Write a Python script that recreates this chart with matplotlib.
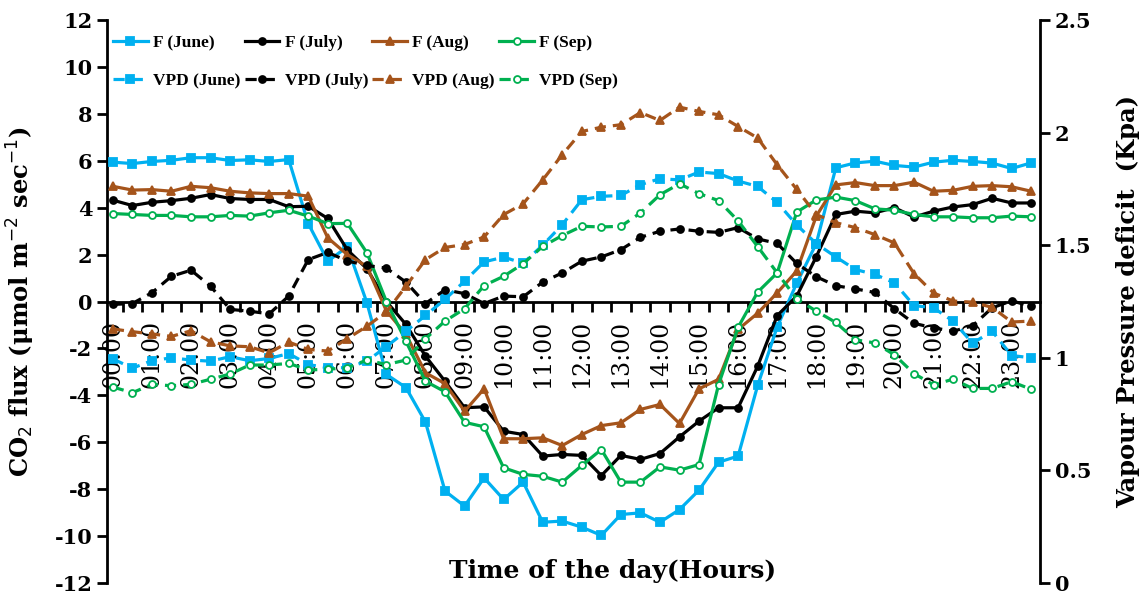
import numpy as np
import matplotlib
matplotlib.use("Agg")
import matplotlib.pyplot as plt

plt.rcParams['font.family'] = ['DejaVu Serif']
plt.rcParams['axes.unicode_minus'] = False

# half-hourly points, 00:00 .. 23:30
hours = [f"{h:02d}:00" for h in range(24)]

f_june = [5.94, 5.88, 5.97, 6.02, 6.13, 6.13, 6.01, 6.04, 5.97, 6.05,
          3.32, 1.72, 2.33, -0.05, -3.11, -3.67, -5.14, -8.08, -8.72, -7.52,
          -8.44, -7.70, -9.41, -9.36, -9.62, -9.97, -9.08, -9.01, -9.41, -8.87,
          -8.04, -6.85, -6.59, -3.58, -1.08, 0.78, 2.47, 5.70, 5.91, 5.98,
          5.80, 5.73, 5.94, 6.02, 5.97, 5.90, 5.67, 5.91]
f_july = [4.32, 4.09, 4.23, 4.30, 4.40, 4.56, 4.39, 4.35, 4.35, 4.04,
          4.06, 3.54, 2.20, 1.40, 0.00, -0.98, -2.33, -3.40, -4.53, -4.49,
          -5.53, -5.67, -6.59, -6.52, -6.56, -7.42, -6.56, -6.73, -6.48, -5.77,
          -5.10, -4.53, -4.53, -2.76, -0.60, 0.23, 1.91, 3.71, 3.85, 3.78,
          4.00, 3.60, 3.85, 4.03, 4.13, 4.40, 4.20, 4.20]
f_aug = [4.91, 4.75, 4.77, 4.70, 4.91, 4.85, 4.70, 4.63, 4.60, 4.60,
         4.49, 2.71, 2.00, 1.50, -0.40, -1.40, -3.04, -3.50, -4.68, -3.72,
         -5.85, -5.85, -5.81, -6.14, -5.67, -5.29, -5.17, -4.60, -4.39, -5.20,
         -3.72, -3.32, -1.19, -0.50, 0.37, 1.30, 3.64, 4.97, 5.07, 4.94,
         4.94, 5.09, 4.70, 4.74, 4.91, 4.94, 4.89, 4.70]
f_sep = [3.75, 3.71, 3.67, 3.67, 3.61, 3.61, 3.67, 3.64, 3.78, 3.89,
         3.64, 3.32, 3.33, 2.08, 0.00, -1.70, -3.40, -3.85, -5.15, -5.34,
         -7.09, -7.37, -7.45, -7.70, -6.99, -6.31, -7.70, -7.70, -7.05, -7.19,
         -6.95, -3.54, -1.10, 0.40, 1.22, 3.81, 4.33, 4.45, 4.30, 3.95,
         3.89, 3.71, 3.61, 3.61, 3.57, 3.57, 3.64, 3.61]

vpd_june = [0.995, 0.954, 0.987, 1.0, 0.99, 0.985, 1.005, 0.987, 0.997, 1.019,
            0.97, 0.956, 0.956, 0.985, 1.05, 1.118, 1.188, 1.26, 1.34, 1.426,
            1.447, 1.42, 1.5, 1.591, 1.702, 1.717, 1.721, 1.769, 1.795, 1.79,
            1.825, 1.818, 1.785, 1.761, 1.69, 1.59, 1.507, 1.448, 1.392, 1.37,
            1.333, 1.232, 1.222, 1.163, 1.065, 1.118, 1.01, 1.0]
vpd_july = [1.237, 1.241, 1.289, 1.362, 1.389, 1.318, 1.215, 1.207, 1.195, 1.274,
            1.436, 1.468, 1.43, 1.41, 1.398, 1.336, 1.241, 1.302, 1.285, 1.241,
            1.274, 1.271, 1.336, 1.377, 1.429, 1.448, 1.48, 1.535, 1.562, 1.572,
            1.562, 1.557, 1.578, 1.528, 1.508, 1.419, 1.36, 1.32, 1.306, 1.29,
            1.218, 1.153, 1.133, 1.118, 1.142, 1.222, 1.253, 1.229]
vpd_aug = [1.128, 1.116, 1.106, 1.095, 1.12, 1.071, 1.053, 1.049, 1.022, 1.07,
           1.037, 1.03, 1.085, 1.14, 1.204, 1.318, 1.436, 1.49, 1.503, 1.537,
           1.636, 1.684, 1.79, 1.902, 2.005, 2.024, 2.035, 2.089, 2.054, 2.113,
           2.094, 2.079, 2.027, 1.976, 1.857, 1.748, 1.636, 1.60, 1.578, 1.547,
           1.51, 1.374, 1.288, 1.252, 1.247, 1.224, 1.159, 1.163]
vpd_sep = [0.87, 0.845, 0.882, 0.876, 0.882, 0.905, 0.928, 0.968, 0.968, 0.975,
           0.946, 0.949, 0.956, 0.99, 0.97, 0.99, 1.085, 1.163, 1.218, 1.321,
           1.362, 1.418, 1.495, 1.543, 1.584, 1.581, 1.584, 1.643, 1.724, 1.773,
           1.729, 1.698, 1.608, 1.494, 1.377, 1.262, 1.207, 1.157, 1.08, 1.066,
           1.013, 0.93, 0.88, 0.905, 0.864, 0.864, 0.894, 0.86]

months = ['June', 'July', 'Aug', 'Sep']
colors = ['#00B0F0', '#000000', '#A5541B', '#00B050']
markers = ['s', 'o', '^', 'o']
msizes = [6, 5, 6, 5]
f_all = [f_june, f_july, f_aug, f_sep]
vpd_all = [vpd_june, vpd_july, vpd_aug, vpd_sep]

x = np.arange(len(f_june))

fig = plt.figure(figsize=(11.46, 5.93), dpi=100)
ax = fig.add_axes([107/1146, 1 - 583/593, 933/1146, 563/593])
ax2 = ax.twinx()

handles = []
for m, c, mk, ms, fv, vv in zip(months, colors, markers, msizes, f_all, vpd_all):
    face = 'white' if m == 'Sep' else c
    h1, = ax.plot(x, fv, color=c, lw=2.3, marker=mk, ms=ms, mfc=face, mec=c,
                  mew=1.3, label=f'F ({m})', zorder=3)
    h2, = ax2.plot(x, vv, color=c, lw=2.3, ls=(0, (3.5, 2.2)), marker=mk, ms=ms,
                   mfc=face, mec=c, mew=1.3, label=f'VPD ({m})')
    handles += [h1, h2]

ax.set_xlim(-0.3, 47.45)
ax.set_ylim(-12, 12)
ax2.set_ylim(0, 2.5)
ax.set_yticks(np.arange(-12, 13, 2))
ax2.set_yticks([0, 0.5, 1, 1.5, 2, 2.5])
ax2.set_yticklabels(['0', '0.5', '1', '1.5', '2', '2.5'])

for a in (ax, ax2):
    a.spines['top'].set_visible(False)
    for s in ('left', 'right'):
        a.spines[s].set_linewidth(2)
ax2.spines['bottom'].set_visible(False)
ax.spines['right'].set_visible(False)
ax2.spines['left'].set_visible(False)
ax.spines['bottom'].set_position(('data', 0))
ax.spines['bottom'].set_linewidth(2)

ax.tick_params(axis='y', direction='out', length=7, width=2, labelsize=15)
ax2.tick_params(axis='y', direction='out', length=7, width=2, labelsize=15)
for lab in ax.get_yticklabels() + ax2.get_yticklabels():
    lab.set_fontweight('bold')

# tick marks between categories, hour labels under the points
ax.set_xticks(np.arange(0.5, 47.5, 1))
ax.set_xticklabels([])
ax.tick_params(axis='x', which='major', direction='out', length=7, width=2)
ax.set_xticks(np.arange(0, 48, 2), minor=True)
ax.set_xticklabels(hours, minor=True, rotation=90, fontsize=17)
ax.tick_params(axis='x', which='minor', length=0, pad=13)

ax.set_ylabel('CO$_2$ flux (μmol m$^{-2}$ sec$^{-1}$)', fontsize=17.5, fontweight='bold')
ax.yaxis.set_label_coords(-0.075, 0.5)
ax2.set_ylabel('Vapour Pressure deficit  (Kpa)', fontsize=17.5, fontweight='bold')
ax2.yaxis.set_label_coords(1.082, 0.5)
ax.text(0.542, 0.021, 'Time of the day(Hours)', transform=ax.transAxes,
        ha='center', va='center', fontsize=18, fontweight='bold')

leg = ax.legend(handles=handles, ncol=4, loc='upper left',
                bbox_to_anchor=(6/933, 1 - 15/563), frameon=False,
                prop={'family': 'Liberation Serif', 'weight': 'bold', 'size': 12.5},
                handlelength=2.0, handletextpad=0.3, columnspacing=0.25,
                labelspacing=1.25, borderpad=0, borderaxespad=0)

fig.savefig('out.png', dpi=100)
